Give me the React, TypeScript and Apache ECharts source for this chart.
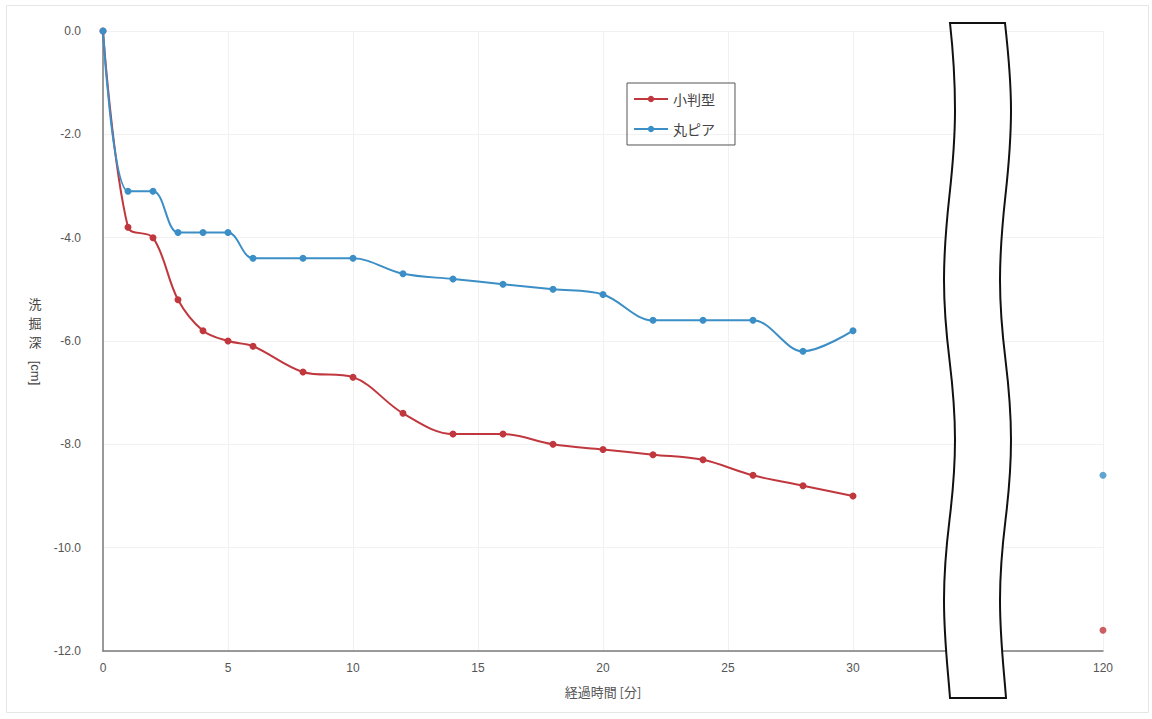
import React, { useEffect, useRef } from "react";
import * as echarts from "echarts";

// ---- data ----
const times = [0, 1, 2, 3, 4, 5, 6, 8, 10, 12, 14, 16, 18, 20, 22, 24, 26, 28, 30];
const kobanValues = [0, -3.8, -4.0, -5.2, -5.8, -6.0, -6.1, -6.6, -6.7, -7.4, -7.8, -7.8, -8.0, -8.1, -8.2, -8.3, -8.6, -8.8, -9.0];
const maruValues = [0, -3.1, -3.1, -3.9, -3.9, -3.9, -4.4, -4.4, -4.4, -4.7, -4.8, -4.9, -5.0, -5.1, -5.6, -5.6, -5.6, -6.2, -5.8];
const finalTime = 120;
const kobanFinal = -11.6;
const maruFinal = -8.6;
const seriesNames = ["小判型", "丸ピア"];
const xTickValues = [0, 5, 10, 15, 20, 25, 30];
const breakAxisPos = 40; // axis position where the 120-minute point is drawn
const yTickLabels = ["0.0", "-2.0", "-4.0", "-6.0", "-8.0", "-10.0", "-12.0"];
const yTitleChars = ["洗", "掘", "深"];
const yTitleUnit = "[cm]";

const RED = "#c0373d";
const BLUE = "#3b8ec6";

const toAxis = (t: number) => (t === finalTime ? breakAxisPos : t);

const breakPath =
  "M950 23 L1005 23 C1008 50 1011 80 1011 110 C1011 180 1000 210 1000 280 C1000 350 1011 370 1011 440 C1011 510 1000 530 1000 600 C1000 640 1004 670 1006 698 " +
  "L950 698 C948 670 944 640 944 600 C944 530 955 510 955 440 C955 370 944 350 944 280 C944 210 955 180 955 110 C955 80 953 50 950 23 Z";

let registered = false;

export default function App() {
  const ref = useRef<HTMLDivElement>(null);
  useEffect(() => {
    if (!ref.current) return;
    if (!registered) {
      echarts.graphic.registerShape("breakmark", echarts.graphic.extendPath(breakPath, {}));
      registered = true;
    }
    const chart = echarts.init(ref.current, null, { renderer: "svg" });
    const font = "'Liberation Sans', 'Noto Sans CJK JP', sans-serif";
    const lineSeries = (name: string, vals: number[], color: string) => ({
      name,
      type: "line",
      data: times.map((t, i) => [toAxis(t), vals[i]]),
      smooth: 0.35,
      symbol: "circle",
      symbolSize: 7,
      lineStyle: { color, width: 2 },
      itemStyle: { color },
      z: 3,
    });
    chart.setOption({
      animation: false,
      backgroundColor: "#ffffff",
      textStyle: { fontFamily: font },
      grid: { left: 103, right: 49, top: 31, bottom: 68 },
      legend: {
        data: seriesNames,
        orient: "vertical",
        left: 627,
        top: 83,
        borderColor: "#555",
        borderWidth: 1,
        borderRadius: 0,
        padding: [9, 20, 9, 6],
        itemGap: 16,
        itemWidth: 34,
        itemHeight: 8,
        textStyle: { fontSize: 14, color: "#444", fontFamily: "'Noto Sans CJK JP', sans-serif" },
      },
      xAxis: {
        type: "value",
        min: 0,
        max: breakAxisPos,
        interval: 5,
        name: "経過時間 [分]",
        nameLocation: "middle",
        nameGap: 34,
        nameTextStyle: { fontSize: 13, color: "#555", fontFamily: "'Noto Sans CJK JP', sans-serif" },
        axisLine: { onZero: false, lineStyle: { color: "#7a7a7a", width: 1.5 } },
        axisTick: { show: false },
        axisLabel: {
          color: "#555",
          fontSize: 12,
          margin: 11,
          formatter: (v: number) => (v === breakAxisPos ? String(finalTime) : xTickValues.includes(v) ? String(v) : ""),
        },
        splitLine: { show: true, lineStyle: { color: "#f1f1f1", width: 1 } },
      },
      yAxis: {
        type: "value",
        min: -12,
        max: 0,
        interval: 2,
        axisLine: { show: true, onZero: false, lineStyle: { color: "#7a7a7a", width: 1.5 } },
        axisTick: { show: false },
        axisLabel: {
          color: "#555",
          fontSize: 12,
          margin: 22,
          formatter: (v: number) => yTickLabels[Math.round(-v / 2)] ?? "",
        },
        splitLine: { show: true, lineStyle: { color: "#f1f1f1", width: 1 } },
      },
      series: [
        lineSeries(seriesNames[0], kobanValues, RED),
        lineSeries(seriesNames[1], maruValues, BLUE),
        {
          name: seriesNames[0] + "-120",
          type: "scatter",
          data: [[toAxis(finalTime), kobanFinal]],
          symbol: "circle",
          symbolSize: 7,
          itemStyle: { color: RED },
        },
        {
          name: seriesNames[1] + "-120",
          type: "scatter",
          data: [[toAxis(finalTime), maruFinal]],
          symbol: "circle",
          symbolSize: 7,
          itemStyle: { color: BLUE },
        },
      ],
      graphic: [
        {
          type: "rect",
          z: 0,
          silent: true,
          shape: { x: 6.5, y: 5.5, width: 1142, height: 707 },
          style: { fill: "none", stroke: "#e6e6e6", lineWidth: 1 },
        },
        {
          type: "breakmark",
          x: 0,
          y: 0,
          z: 100,
          silent: true,
          style: { fill: "#ffffff", stroke: "#111", lineWidth: 2 },
        },
        {
          type: "group",
          z: 100,
          children: [
            ...yTitleChars.map((ch, i) => ({
              type: "text",
              x: 35,
              y: 303 + i * 19,
              style: { text: ch, fill: "#444", align: "center", verticalAlign: "middle", font: "13px 'Noto Sans CJK JP'" },
            })),
            {
              type: "text",
              x: 35,
              y: 373,
              rotation: -Math.PI / 2,
              style: { text: yTitleUnit, fill: "#444", align: "center", verticalAlign: "middle", font: "13px 'Liberation Sans'" },
            },
          ],
        },
      ],
    });
    return () => chart.dispose();
  }, []);
  return <div ref={ref} style={{ position: "absolute", left: 0, top: 0, width: 1152, height: 719 }} />;
}
